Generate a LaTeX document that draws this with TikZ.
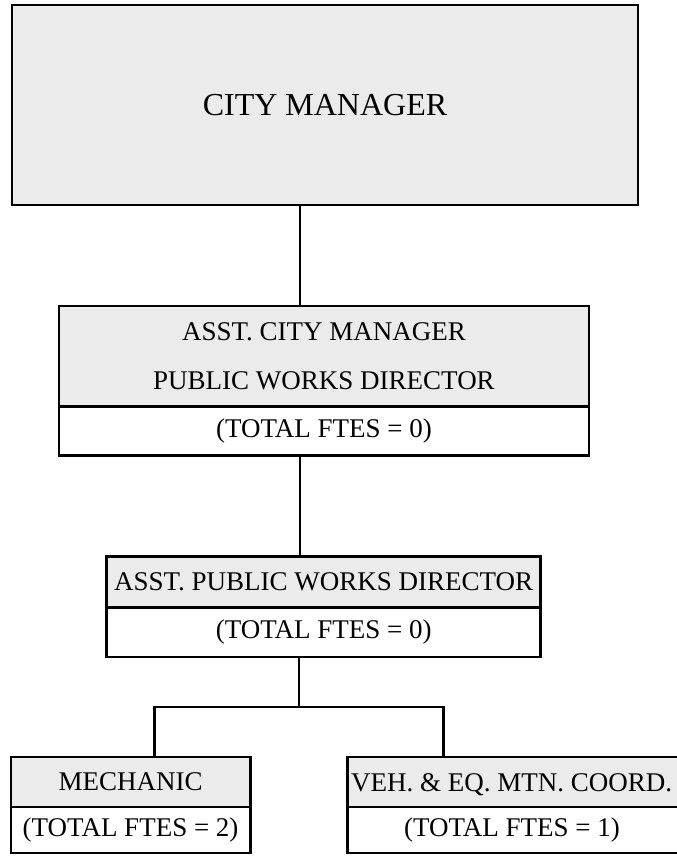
\documentclass[tikz,border=0pt]{standalone}
\usepackage{fontspec}
\setmainfont{Liberation Serif}
\begin{document}
\begin{tikzpicture}[x=1pt,y=-1pt,
  boxline/.style={draw=black,line width=2.6pt},
  headbox/.style={boxline,fill=black!8,rectangle,inner sep=0pt,outer sep=0pt,
    font=\fontsize{27}{49}\selectfont,align=center},
  ftesbox/.style={boxline,fill=white,rectangle,inner sep=0pt,outer sep=0pt,
    font=\fontsize{27}{32}\selectfont},
  link/.style={draw=black,line width=2.6pt}]
\clip (0,0) rectangle (677,859);
\useasboundingbox (0,0) rectangle (677,859);
\fill[white] (0,0) rectangle (677,859);

% vertical spine shared by the upper connectors
\coordinate (spine) at (300,0);

% city manager
\node[headbox,minimum width=626pt,minimum height=200pt,
  font=\fontsize{32}{38}\selectfont] (cm) at (325,105) {CITY MANAGER};

% assistant city manager / public works director
\node[headbox,minimum width=530pt,minimum height=100.7pt] (acm) at (324,356.3)
  {ASST. CITY MANAGER\\PUBLIC WORKS DIRECTOR};
\node[ftesbox,minimum width=530pt,minimum height=49pt,anchor=north] (acmf)
  at (acm.south) {(TOTAL FTES = 0)};

% assistant public works director
\node[headbox,minimum width=434pt,minimum height=51pt] (apw) at (323.7,582.2)
  {ASST. PUBLIC WORKS DIRECTOR};
\node[ftesbox,minimum width=434pt,minimum height=49.3pt,anchor=north] (apwf)
  at (apw.south) {(TOTAL FTES = 0)};

% mechanic
\node[headbox,minimum width=239.6pt,minimum height=50pt] (mech) at (130.6,782)
  {MECHANIC};
\node[ftesbox,minimum width=239.6pt,minimum height=46pt,anchor=north] (mechf)
  at (mech.south) {(TOTAL FTES = 2)};

% vehicle & equipment maintenance coordinator
\node[headbox,minimum width=360pt,minimum height=50pt,anchor=north west] (veh)
  at (347.6,757) {};
\node[ftesbox,minimum width=360pt,minimum height=46pt,anchor=north] (vehf)
  at (veh.south) {};
\node[font=\fontsize{27}{32}\selectfont,anchor=west,inner sep=0pt,
  text height=18pt,text depth=0pt] (vehtxt)
  at (351,782) {VEH. \& EQ. MTN. COORD.};
\node[font=\fontsize{27}{32}\selectfont,inner sep=0pt] (vehftxt)
  at (512,830) {(TOTAL FTES = 1)};

% connectors
\coordinate (bar) at (299,707);
\coordinate (lb) at (154.6,707);
\coordinate (rb) at (443.4,707);
\draw[link] (cm.south -| spine) -- (acm.north -| spine);
\draw[link] (acmf.south -| spine) -- (apw.north -| spine);
\draw[link] (apwf.south -| bar) -- (bar);
\draw[link,line cap=rect] (lb) -- (rb);
\draw[link] (lb) -- (mech.north -| lb);
\draw[link] (rb) -- (veh.north -| rb);
\end{tikzpicture}
\end{document}
